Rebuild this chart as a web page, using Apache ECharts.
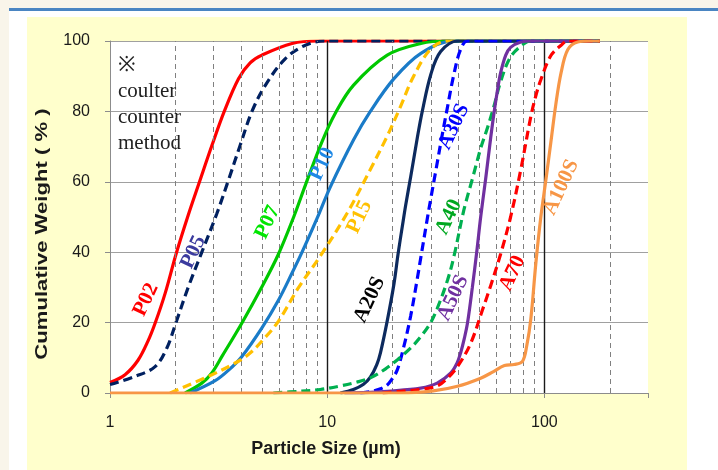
<!DOCTYPE html>
<html><head><meta charset="utf-8">
<script src="https://cdn.jsdelivr.net/npm/echarts@6/dist/echarts.min.js"></script>
<style>
html,body{margin:0;padding:0;width:718px;height:470px;overflow:hidden;background:#fff;}
.bg{position:absolute;}
#chart{position:absolute;left:0;top:0;width:718px;height:470px;}
</style></head>
<body>
<div class="bg" style="left:0;top:0;width:718px;height:8px;background:#f9f5ea"></div>
<div class="bg" style="left:0;top:0;width:9px;height:470px;background:#f9f5ea"></div>
<div class="bg" style="left:9px;top:8px;width:709px;height:3px;background:#4a85c2"></div>
<div class="bg" style="left:27px;top:17px;width:660px;height:453px;background:#ffffcc"></div>
<div id="chart"></div>
<script>
// ---- data (particle size µm, cumulative weight %) ----
const xTickLabels = [1, 10, 100];
const yTicks = [0, 20, 40, 60, 80, 100];
const minorGrid = [2,3,4,5,6,7,8,9,20,30,40,50,60,70,80,90,200];
const majorGrid = [10,100];

const P02 = [[1,3],[1.173,5.2],[1.346,9.3],[1.497,14.8],[1.613,19.8],[1.794,28.3],[2.015,39.5],[2.291,50.5],[2.583,60],[2.953,70.5],[3.358,80],[3.906,89.3],[4.418,93.8],[5.007,96],[6.89,99.3],[9.1,100],[180,100]];
const P05 = [[1,2.4],[1.304,4.7],[1.613,7.5],[1.828,12.8],[2.01,19.9],[2.297,30.2],[2.647,40],[3.105,51],[3.512,60.5],[3.976,70.4],[4.504,80],[5.19,87.4],[6.42,95],[7.93,98.8],[9.81,100],[180,100]];
const P07 = [[2.216,0],[2.646,2.8],[2.943,5.7],[3.277,10.4],[4.05,19.9],[5.007,30.2],[5.94,39.2],[7.06,50.5],[7.93,59],[9.48,71.5],[10.9,79.5],[13.2,87.4],[18.9,96],[27,99.3],[35.8,100],[180,100]];
const P10 = [[2.336,0],[3.05,3.5],[3.516,6.5],[4.05,10.4],[5.007,18.5],[5.98,26.5],[6.88,34],[7.66,40],[8.98,49.6],[10.33,58.5],[13.25,72],[15.8,80],[20.3,89.3],[27,96.5],[38.2,100],[180,100]];
const P15 = [[1.892,0],[2.946,5.2],[3.64,8],[4.35,11],[5.185,15.8],[5.98,20.5],[7.39,30],[9.32,39],[12.33,51],[15.8,63.5],[18.9,73],[21.8,81.5],[25,90],[29.9,97.6],[35.8,100],[180,100]];
const A20S = [[11.5,0],[13.2,1],[14.7,2.5],[15.8,4.5],[16.9,8],[17.6,11.5],[18.9,20.5],[20.3,31],[21.2,39.5],[22.2,47.5],[23,53.5],[24.25,61.5],[26,72.5],[27.4,80],[30,90.5],[33.3,97],[39.9,100],[180,100]];
const A30S = [[14.2,0],[15.8,0.4],[17.6,1.2],[18.9,2.3],[19.8,3.8],[21,6.5],[22.5,13],[24.25,22],[26,32.5],[26.9,38],[28.9,49.5],[29.95,55],[31.6,63],[33.9,73.5],[35.5,80],[38.3,90.5],[41.1,97.5],[44.3,100],[180,100]];
const A40 = [[5.65,0],[7.53,0.5],[9.3,1],[11.5,2],[13.5,3],[15.8,4.3],[18.5,6.8],[21,9.4],[24.25,12.8],[26.95,16],[29.95,20],[32.1,24],[35.8,32],[38.4,39],[42.6,52],[46.7,61],[50.9,69.5],[54.8,75.5],[58.6,81.5],[62.9,88.5],[69.9,95.5],[80.8,99.3],[86.6,100],[180,100]];
const A50S = [[12,0],[15.8,0.2],[18.9,0.5],[26.95,1.4],[32.1,2.8],[37.1,5.7],[39.6,8.5],[41.2,11.5],[42.8,15.5],[44.3,20],[46.6,30],[48.8,40],[50.9,50],[53.7,61],[56.6,72.5],[58.6,79.5],[61,86.5],[62.9,91],[66.4,96],[69.9,98.2],[77.9,99.7],[86.6,100],[180,100]];
const A70 = [[18,0],[21.8,0.5],[26.95,1],[32.1,2],[35.5,4],[39.8,7.5],[45.7,14],[51.8,23.5],[56.6,30.5],[62.9,39.5],[69.9,50],[77.9,63.5],[86.6,78.5],[91.4,84.5],[96.3,89],[107,95.8],[119.4,98.8],[128,100],[180,100]];
const A100S = [[1,0],[21.8,0],[30.8,0.6],[39.8,1.9],[50.9,4.2],[58,6],[65.5,7.8],[72.6,8.1],[79.3,9],[83,13.5],[86.6,21],[91.4,37],[96.3,50],[101.6,60.5],[107,71],[112.9,82],[119.4,91],[128.1,97.5],[142.4,99.7],[164,100],[180,100]];

// ---- styles ----
const seriesDefs = [
  {name:'P02', data:P02, color:'#ff0000', dashed:false},
  {name:'P05', data:P05, color:'#002060', dashed:true},
  {name:'P07', data:P07, color:'#00c800', dashed:false},
  {name:'P10', data:P10, color:'#1a7bc8', dashed:false},
  {name:'P15', data:P15, color:'#ffc000', dashed:true},
  {name:'A20S', data:A20S, color:'#0d2a5e', dashed:false},
  {name:'A30S', data:A30S, color:'#0000ff', dashed:true},
  {name:'A40', data:A40, color:'#00b050', dashed:true},
  {name:'A50S', data:A50S, color:'#7030a0', dashed:false},
  {name:'A70', data:A70, color:'#ff0000', dashed:true},
  {name:'A100S', data:A100S, color:'#f79646', dashed:false}
];
const labelDefs = [
  {text:'P02', at:[1.466,26.5], color:'#ff0000'},
  {text:'P05', at:[2.42,40], color:'#3b3b9e'},
  {text:'P07', at:[5.32,48.5], color:'#00e600'},
  {text:'P10', at:[9.5,65], color:'#1e88e5'},
  {text:'P15', at:[14.1,50], color:'#ffc000'},
  {text:'A20S', at:[15.67,26.5], color:'#000000'},
  {text:'A30S', at:[38.3,75.6], color:'#0000ff'},
  {text:'A40', at:[36.3,50], color:'#00a820'},
  {text:'A50S', at:[38.0,27], color:'#7030a0'},
  {text:'A70', at:[71.3,34], color:'#ff0000'},
  {text:'A100S', at:[119.5,58.4], color:'#f79646'}
];

const chart = echarts.init(document.getElementById('chart'), null, {renderer:'canvas'});
const series = [{
  type:'line', data:[[1,0]], showSymbol:false, silent:true, z:1,
  lineStyle:{opacity:0},
  markLine:{
    symbol:['none','none'], silent:true, animation:false, label:{show:false},
    data: minorGrid.map(v=>({xAxis:v, lineStyle:{type:[5,4], color:'#808080', width:1}}))
      .concat(majorGrid.map(v=>({xAxis:v, lineStyle:{type:'solid', color:'#1a1a1a', width:1.4}})))
  }
}];
seriesDefs.forEach((s,i)=>{
  series.push({
    name:s.name, type:'line', data:s.data, showSymbol:false, smooth:0.35,
    z:3+i,
    lineStyle:{color:s.color, width:3.2, type: s.dashed ? [9,5] : 'solid'}
  });
});

chart.setOption({
  animation:false,
  grid:{left:110, top:41, right:70, bottom:77, show:true, backgroundColor:'#ffffff', borderWidth:0},
  xAxis:{
    type:'log', logBase:10, min:1, max:300,
    axisLine:{show:true, lineStyle:{color:'#8c8c8c', width:1}},
    axisTick:{show:true, length:5, lineStyle:{color:'#8c8c8c'}},
    axisLabel:{margin:22, fontSize:16, color:'#1a1a1a', fontFamily:'Liberation Sans',
      formatter: v => { const t = xTickLabels.find(k => Math.abs(k - v) < 1e-6); return t !== undefined ? String(t) : ''; }},
    splitLine:{show:false}
  },
  yAxis:{
    type:'value', min:yTicks[0], max:yTicks[yTicks.length-1], interval:20,
    axisLine:{show:true, lineStyle:{color:'#8c8c8c', width:1}},
    axisTick:{show:true, length:5, lineStyle:{color:'#8c8c8c'}},
    axisLabel:{margin:20, fontSize:16, color:'#1a1a1a', fontFamily:'Liberation Sans'},
    splitLine:{show:true, lineStyle:{color:'#a0a0a0', width:1.2}}
  },
  series: series
});

const gfx = labelDefs.map(l => {
  const p = chart.convertToPixel({xAxisIndex:0, yAxisIndex:0}, l.at);
  return {type:'text', x:p[0], y:p[1], rotation:65*Math.PI/180, z:100,
    style:{text:l.text, fill:l.color, font:'bold 21px "Liberation Serif"', align:'center', verticalAlign:'middle', textAlign:'center', textVerticalAlign:'middle'}};
});
gfx.push({type:'text', x:118, y:52, z:100,
  style:{text:'※\ncoulter\ncounter\nmethod', fill:'#222', font:'21px "Liberation Serif"', lineHeight:26, align:'left', verticalAlign:'top', textAlign:'left', textVerticalAlign:'top'}});
gfx.push({type:'text', x:326, y:449, z:100,
  style:{text:'Particle Size (µm)', fill:'#1a1a1a', font:'bold 18px "Liberation Sans"', align:'center', verticalAlign:'middle', textAlign:'center', textVerticalAlign:'middle'}});
gfx.push({type:'text', x:42, y:234, rotation:Math.PI/2, scaleX:1.3, z:100,
  style:{text:'Cumulative Weight ( % )', fill:'#1a1a1a', font:'bold 17px "Liberation Sans"', align:'center', verticalAlign:'middle', textAlign:'center', textVerticalAlign:'middle'}});
chart.setOption({graphic:{elements:gfx}});
</script>
</body></html>
